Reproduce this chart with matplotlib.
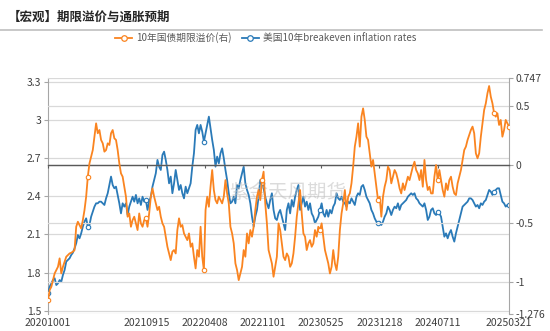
import matplotlib
matplotlib.use('Agg')
import matplotlib.pyplot as plt
from matplotlib.lines import Line2D
import numpy as np
import pandas as pd

plt.rcParams['font.family'] = ['Noto Sans CJK SC', 'DejaVu Sans']

start_date = '2020-10-01'
end_date = '2025-03-21'

# 美国10年breakeven inflation rates (left axis)
breakeven = [
    1.642, 1.689, 1.715, 1.741, 1.755, 1.702, 1.715, 1.741, 1.728, 1.781,
    1.820, 1.886, 1.899, 1.912, 1.938, 1.956, 1.990, 2.030, 2.095, 2.069,
    2.108, 2.161, 2.200, 2.226, 2.161, 2.174, 2.239, 2.279, 2.318, 2.344,
    2.344, 2.357, 2.357, 2.344, 2.331, 2.383, 2.423, 2.488, 2.554, 2.488,
    2.462, 2.475, 2.410, 2.344, 2.265,
    2.344, 2.318, 2.344, 2.252, 2.318, 2.357, 2.396, 2.357, 2.410, 2.344,
    2.383, 2.331, 2.396, 2.357, 2.370, 2.292, 2.357, 2.396, 2.475, 2.527,
    2.580, 2.685, 2.632, 2.606, 2.724, 2.750, 2.685, 2.606, 2.501, 2.554,
    2.423, 2.501, 2.606, 2.527, 2.449, 2.488, 2.423, 2.383, 2.475, 2.423,
    2.462, 2.501, 2.632, 2.737, 2.920, 2.960, 2.894,
    2.960, 2.907, 2.829, 2.894, 2.960, 3.025, 2.934, 2.842, 2.763, 2.632,
    2.711, 2.658, 2.737, 2.776, 2.698, 2.606, 2.527, 2.423, 2.344, 2.357,
    2.396, 2.344, 2.488, 2.462, 2.527, 2.580, 2.632, 2.501, 2.449, 2.410,
    2.344, 2.239, 2.161, 2.239, 2.292, 2.396, 2.527, 2.501, 2.462, 2.396,
    2.344, 2.305, 2.370, 2.423, 2.292, 2.226, 2.213,
    2.265, 2.292, 2.239, 2.187, 2.134, 2.292, 2.344, 2.265, 2.370, 2.318,
    2.396, 2.449, 2.488, 2.292, 2.344, 2.396, 2.318, 2.357, 2.292, 2.344,
    2.265, 2.239, 2.187, 2.213, 2.239, 2.292, 2.344, 2.265, 2.239, 2.292,
    2.239, 2.292, 2.265, 2.318, 2.344, 2.423, 2.383, 2.370, 2.396, 2.357,
    2.344, 2.318, 2.357, 2.344, 2.383, 2.357, 2.331,
    2.396, 2.423, 2.410, 2.475, 2.488, 2.449, 2.396, 2.370, 2.344, 2.292,
    2.265, 2.226, 2.200, 2.187, 2.200, 2.174, 2.200, 2.239, 2.265, 2.318,
    2.292, 2.252, 2.292, 2.318, 2.305, 2.344, 2.292, 2.331, 2.344, 2.357,
    2.370, 2.396, 2.410, 2.423, 2.410, 2.423, 2.383, 2.370, 2.344, 2.331,
    2.318, 2.344, 2.292, 2.213, 2.239, 2.292,
    2.305, 2.265, 2.252, 2.279, 2.265, 2.239, 2.161, 2.082, 2.108, 2.069,
    2.108, 2.134, 2.082, 2.043, 2.108, 2.161, 2.213, 2.265, 2.318, 2.331,
    2.344, 2.357, 2.383, 2.383, 2.370, 2.344, 2.318, 2.331, 2.305, 2.344,
    2.331, 2.357, 2.370, 2.410, 2.449, 2.436, 2.410, 2.436, 2.449, 2.462,
    2.462, 2.410, 2.357, 2.344, 2.318, 2.331, 2.331,
]

# 10年国债期限溢价 (right axis)
term_premium = [
    -1.155, -1.069, -1.041, -0.984, -0.927, -0.898, -0.870, -0.798, -0.927, -0.870,
    -0.827, -0.784, -0.770, -0.756, -0.750, -0.741, -0.727, -0.528, -0.485, -0.513,
    -0.542, -0.471, -0.385, -0.271, -0.100, 0.014, 0.071, 0.128, 0.242, 0.356,
    0.271, 0.299, 0.214, 0.185, 0.114, 0.128, 0.185, 0.171, 0.271, 0.299,
    0.228, 0.214, 0.128, 0.014, -0.072,
    -0.100, -0.186, -0.271, -0.442, -0.414, -0.528, -0.471, -0.442, -0.499, -0.556,
    -0.414, -0.499, -0.528, -0.471, -0.456, -0.528, -0.414, -0.271, -0.200, -0.271,
    -0.328, -0.385, -0.357, -0.442, -0.499, -0.528, -0.613, -0.699, -0.756, -0.813,
    -0.741, -0.727, -0.756, -0.556, -0.456, -0.528, -0.513, -0.585, -0.613, -0.642,
    -0.585, -0.699, -0.670, -0.784, -0.884, -0.727, -0.784,
    -0.528, -0.784, -0.898, -0.385, -0.271, -0.357, -0.186, -0.043, -0.214, -0.300,
    -0.328, -0.271, -0.300, -0.328, -0.271, -0.129, -0.243, -0.328, -0.528, -0.585,
    -0.670, -0.841, -0.898, -0.984, -0.927, -0.870, -0.727, -0.784, -0.585, -0.670,
    -0.556, -0.613, -0.528, -0.385, -0.271, -0.214, -0.300, -0.129, -0.057, -0.328,
    -0.499, -0.727, -0.784, -0.841, -0.955, -0.870, -0.784,
    -0.499, -0.556, -0.670, -0.784, -0.813, -0.756, -0.784, -0.870, -0.841, -0.756,
    -0.613, -0.442, -0.328, -0.214, -0.414, -0.585, -0.613, -0.727, -0.670, -0.642,
    -0.699, -0.670, -0.556, -0.613, -0.528, -0.556, -0.499, -0.613, -0.727, -0.784,
    -0.841, -0.927, -0.870, -0.727, -0.841, -0.898, -0.784, -0.556, -0.414, -0.328,
    -0.214, -0.385, -0.271, -0.243, -0.157, -0.014, 0.157,
    0.242, 0.356, 0.157, 0.413, 0.484, 0.385, 0.242, 0.214, 0.100, -0.014,
    0.043, -0.072, -0.186, -0.300, -0.271, -0.442, -0.271, -0.186, -0.129, -0.014,
    -0.043, -0.157, -0.100, -0.043, -0.072, -0.129, -0.200, -0.243, -0.157, -0.214,
    -0.157, -0.100, -0.129, -0.072, -0.014, 0.028, -0.043, -0.072, -0.129, -0.043,
    -0.186, 0.043, -0.129, -0.214, -0.186, -0.243,
    -0.243, -0.100, 0.000, -0.129, -0.043, -0.129, -0.214, -0.271, -0.157, -0.214,
    -0.129, -0.100, -0.186, -0.243, -0.257, -0.157, -0.100, -0.043, 0.043, 0.128,
    0.157, 0.214, 0.256, 0.299, 0.328, 0.271, 0.100, 0.057, 0.100, 0.242,
    0.356, 0.470, 0.527, 0.613, 0.675, 0.584, 0.527, 0.442, 0.413, 0.442,
    0.342, 0.385, 0.242, 0.299, 0.385, 0.356, 0.328,
]

tick_labels = ['20201001', '20210915', '20220408', '20221101', '20230525',
               '20231218', '20240711', '20250321']
left_ticks = [1.5, 1.8, 2.1, 2.4, 2.7, 3.0, 3.3]
right_ticks = [-1.276, -1, -0.5, 0, 0.5, 0.747]
marker_dates = ['2020-10-01', '2021-02-20', '2021-09-13', '2022-04-06', '2022-10-28',
                '2023-05-21', '2023-12-16', '2024-07-09', '2025-01-27', '2025-03-21']

blue = '#2A7AB8'
orange = '#FA8420'
grid_c = '#D9D9D9'
txt_c = '#404040'

d_be = pd.date_range(start_date, end_date, periods=len(breakeven))
d_tp = pd.date_range(start_date, end_date, periods=len(term_premium))
mk_be = [int(np.abs((d_be - pd.Timestamp(d)).days).argmin()) for d in marker_dates]
mk_tp = [int(np.abs((d_tp - pd.Timestamp(d)).days).argmin()) for d in marker_dates]

fig = plt.figure(figsize=(5.5, 3.31), dpi=100)
ax = fig.add_axes([0.0873, 0.0505, 0.8382, 0.7151])
ax2 = ax.twinx()

ax.plot(d_be, breakeven, color=blue, lw=1.3, marker='o', markevery=mk_be,
        ms=3.2, mfc='white', mec=blue, mew=0.8, zorder=3)
ax2.plot(d_tp, term_premium, color=orange, lw=1.3, marker='o', markevery=mk_tp,
         ms=3.2, mfc='white', mec=orange, mew=0.8, zorder=3)

ax.set_ylim(1.472, 3.332)
ax2.set_ylim(-1.276, 0.747)
ax.set_xlim(pd.Timestamp(start_date), pd.Timestamp(end_date))

ax.set_yticks(left_ticks)
ax.set_yticklabels(['1.5', '1.8', '2.1', '2.4', '2.7', '3', '3.3'])
ax2.set_yticks(right_ticks)
ax2.set_yticklabels(['-1.276', '-1', '-0.5', '0', '0.5', '0.747'])

for a in (ax, ax2):
    a.grid(axis='y', color=grid_c, lw=0.9, zorder=0)
    a.grid(axis='x', visible=False)
    a.spines['top'].set_visible(False)

ax.spines['left'].set_color('#A6A6A6')
ax.spines['bottom'].set_visible(False)
ax.spines['right'].set_visible(False)
ax2.spines['right'].set_color('#A6A6A6')
ax2.spines['left'].set_visible(False)

ax.tick_params(axis='y', length=3, color='#A6A6A6', labelsize=7.5, labelcolor=txt_c, pad=2)
ax2.tick_params(axis='y', length=3, color='#A6A6A6', labelsize=7.5, labelcolor=txt_c, pad=2)

tick_dates = pd.to_datetime(tick_labels, format='%Y%m%d')
ax.set_xticks(tick_dates)
ax.set_xticklabels(tick_labels)
ax.tick_params(axis='x', length=0, labelsize=7.5, labelcolor=txt_c, pad=3)

# category axis drawn at zero of the right axis
ax2.xaxis.set_visible(True)
ax2.spines['bottom'].set_visible(True)
ax2.spines['bottom'].set_position(('data', 0))
ax2.spines['bottom'].set_color('#595959')
ax2.spines['bottom'].set_linewidth(1.0)
ax2.set_xticks(tick_dates)
ax2.tick_params(axis='x', length=2.5, color='#595959', labelbottom=False, direction='out')

# watermark
ax.text(0.52, 0.515, '紫金天风期货', transform=ax.transAxes, fontsize=14,
        color='#BFBFBF', alpha=0.55, ha='center', va='center', zorder=5)

fig.text(0.014, 1 - 17.5 / 331, '【宏观】期限溢价与通胀预期', fontsize=9,
         fontweight='bold', color='#262626', va='center', ha='left')
fig.add_artist(Line2D([0, 0.985], [1 - 29.5 / 331] * 2, color='#BFBFBF', lw=1.2))

handles = [
    Line2D([], [], color=orange, lw=1.3, marker='o', ms=4, mfc='white', mec=orange, mew=0.9),
    Line2D([], [], color=blue, lw=1.3, marker='o', ms=4, mfc='white', mec=blue, mew=0.9),
]
fig.legend(handles, ['10年国债期限溢价(右)', '美国10年breakeven inflation rates'],
           loc='center', bbox_to_anchor=(0.483, 1 - 38 / 331), ncol=2, frameon=False,
           fontsize=7, labelcolor='#595959', handlelength=1.8, handletextpad=0.4,
           columnspacing=1.0)

fig.savefig('out.png', dpi=100, facecolor='white')
